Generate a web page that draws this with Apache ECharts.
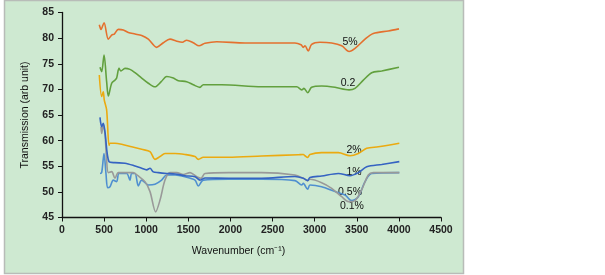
<!DOCTYPE html>
<html>
<head>
<meta charset="utf-8">
<script src="https://cdn.jsdelivr.net/npm/echarts@6/dist/echarts.min.js"></script>
<style>
  html, body { margin: 0; padding: 0; background: #fff; }
  #chart { width: 605px; height: 275px; }
</style>
</head>
<body>
<div id="chart"></div>
<script>
// FTIR spectra, [wavenumber, transmission]
var s5 = [[443,82.6],[463,81.7],[499,83.0],[550,79.8],[590,80.6],[621,80.8],[669,81.7],[728,81.6],[787,81.1],[867,80.8],[946,80.5],[1025,79.8],[1124,78.2],[1203,79.1],[1282,79.8],[1362,79.4],[1429,79.2],[1480,79.6],[1559,79.1],[1627,78.5],[1698,79.0],[1837,79.3],[2173,79.05],[2766,79.05],[2838,78.7],[2865,78.2],[2885,78.5],[2924,77.5],[2964,78.8],[3063,79.2],[3202,79.05],[3321,78.5],[3408,77.4],[3479,78.0],[3598,79.8],[3696,80.9],[3874,81.4],[4001,81.8]];
var s02 = [[451,74.3],[471,73.45],[499,76.7],[530,71.5],[550,68.7],[590,71.2],[629,71.8],[649,72.2],[677,74.1],[700,73.6],[748,74.1],[807,73.9],[867,73.25],[946,72.2],[1025,71.2],[1104,70.5],[1178,71.5],[1243,72.5],[1322,72.2],[1381,71.7],[1480,71.5],[1559,70.9],[1638,70.4],[1678,70.9],[1896,70.9],[2371,70.5],[2787,70.5],[2846,69.9],[2873,70.2],[2917,69.35],[2964,70.4],[3083,70.65],[3241,70.4],[3408,69.9],[3479,70.2],[3578,71.8],[3677,73.25],[3796,73.6],[4001,74.3]];
var s2 = [[443,72.8],[471,68.6],[490,69.55],[502,67.9],[530,66.0],[558,59.1],[570,59.5],[629,59.5],[709,59.3],[827,58.8],[946,58.3],[1045,57.85],[1104,56.35],[1164,56.9],[1223,57.5],[1342,57.5],[1460,57.3],[1579,56.9],[1618,56.35],[1678,56.75],[1975,56.75],[2371,57.0],[2806,57.25],[2865,57.3],[2885,57.05],[2917,56.7],[2944,57.3],[3083,57.65],[3281,57.65],[3420,57.05],[3518,57.5],[3618,58.5],[3756,58.8],[4005,59.5]];
var s1 = [[451,64.55],[471,62.7],[490,63.4],[510,61.7],[558,55.9],[629,55.7],[748,55.6],[867,55.05],[946,54.6],[1005,54.3],[1045,54.6],[1084,53.9],[1144,53.75],[1243,53.6],[1342,53.5],[1460,53.15],[1579,52.95],[1638,52.3],[1698,52.7],[1975,52.65],[2371,52.65],[2766,53.0],[2865,52.65],[2917,52.2],[2944,52.8],[3083,53.1],[3281,53.6],[3420,53.15],[3518,53.75],[3618,54.9],[3796,55.35],[4005,55.9]];
var s05 = [[463,62.7],[471,61.4],[490,63.05],[510,61.4],[530,56.2],[550,53.75],[590,53.95],[629,52.65],[669,53.75],[787,53.75],[846,53.75],[906,53.1],[985,52.0],[1045,50.05],[1112,46.1],[1164,48.4],[1223,52.3],[1282,53.75],[1362,53.75],[1440,53.4],[1520,53.75],[1599,52.95],[1650,52.65],[1698,53.6],[1975,53.75],[2371,53.75],[2766,53.3],[2865,52.65],[2917,52.2],[2944,52.45],[3083,51.8],[3202,50.7],[3321,49.05],[3400,48.1],[3479,48.3],[3558,50.4],[3637,53.3],[3696,53.75],[4005,53.75]];
var s01 = [[451,53.6],[471,53.75],[499,57.5],[522,53.6],[542,50.8],[570,51.0],[609,52.3],[649,52.0],[677,53.6],[768,53.6],[807,52.3],[827,53.6],[867,53.6],[906,51.15],[946,52.3],[1025,51.35],[1104,51.5],[1183,52.3],[1243,53.3],[1342,53.3],[1460,52.95],[1579,52.3],[1618,51.15],[1678,52.3],[1975,52.45],[2371,52.45],[2766,52.2],[2846,51.35],[2865,51.65],[2917,50.5],[2944,51.35],[3083,51.0],[3241,50.05],[3360,49.4],[3439,48.3],[3518,49.05],[3598,52.0],[3677,53.6],[4005,53.75]];

var names = ['5%', '0.2', '2%', '1%', '0.5%', '0.1%'];
var colors = ['#E4702E', '#62A03E', '#EBAA10', '#3563C2', '#999999', '#4F8FD0'];
var labelPos = [[3420,79.25],[3396,71.25],[3467,58.2],[3467,53.9],[3420,50.0],[3443,47.25]];

var chart = echarts.init(document.getElementById('chart'));

var seriesData = [s5, s02, s2, s1, s05, s01];
var series = seriesData.map(function (d, i) {
  return {
    name: names[i],
    type: 'line',
    data: d,
    smooth: 0.3,
    symbol: 'none',
    lineStyle: { width: 1.6, color: colors[i] },
    z: 10 - i,
    markPoint: {
      symbol: 'circle',
      symbolSize: 0,
      data: [{ coord: labelPos[i], value: names[i] }],
      label: { show: true, position: 'inside', formatter: names[i], color: '#111', fontSize: 10.5, fontFamily: 'Liberation Sans' }
    }
  };
});

chart.setOption({
  animation: false,
  graphic: [{
    type: 'rect',
    shape: { x: 4.5, y: 0.5, width: 459, height: 273 },
    style: { fill: '#CEE9D1', stroke: '#B8BCB8', lineWidth: 1.5 },
    z: -10
  }],
  grid: { left: 62, right: 164, top: 12.5, bottom: 57.5 },
  xAxis: {
    type: 'value',
    min: 0, max: 4500, interval: 500,
    name: 'Wavenumber (cm\u207B\u00B9)',
    nameLocation: 'middle',
    nameGap: 28,
    nameTextStyle: { color: '#111', fontSize: 10.5, fontFamily: 'Liberation Sans', padding: [0, 26, 0, 0] },
    axisLine: { lineStyle: { color: '#111', width: 1.3 } },
    axisTick: { show: true, length: 4, lineStyle: { color: '#111' } },
    axisLabel: { color: '#222', fontSize: 10.5, fontWeight: 'bold', fontFamily: 'Liberation Sans', margin: 7, formatter: function (v) { return String(v); } },
    splitLine: { show: false }
  },
  yAxis: {
    type: 'value',
    min: 45, max: 85, interval: 5,
    name: 'Transmission (arb unit)',
    nameLocation: 'middle',
    nameGap: 31,
    nameTextStyle: { color: '#111', fontSize: 10.5, fontFamily: 'Liberation Sans' },
    axisLine: { show: true, lineStyle: { color: '#111', width: 1.3 } },
    axisTick: { show: true, length: 4, lineStyle: { color: '#111' } },
    axisLabel: { color: '#222', fontSize: 10.5, fontWeight: 'bold', fontFamily: 'Liberation Sans', margin: 8 },
    splitLine: { show: false }
  },
  series: series
});
</script>
</body>
</html>
